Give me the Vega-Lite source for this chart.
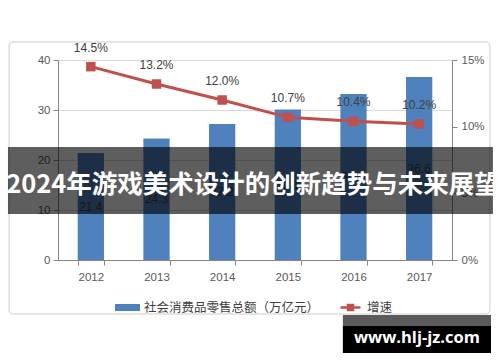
{
"$schema":"https://vega.github.io/schema/vega-lite/v6.json",
"width":394,"height":200,
"autosize":{"type":"none"},
"padding":{"left":58,"top":60,"right":48,"bottom":102},
"background":"#ffffff",
"config":{"view":{"stroke":null},"font":"Liberation Sans",
 "axis":{"labelFont":"Liberation Sans","labelFontSize":11.5,"labelColor":"#595959","domainColor":"#868686","tickColor":"#868686","tickSize":5,"title":null}},
"data":{"values":[
 {"year":"2012","sales":21.4,"growth":0.145},
 {"year":"2013","sales":24.3,"growth":0.132},
 {"year":"2014","sales":27.2,"growth":0.120},
 {"year":"2015","sales":30.1,"growth":0.107},
 {"year":"2016","sales":33.2,"growth":0.104},
 {"year":"2017","sales":36.6,"growth":0.102}]},
"layer":[
 {"data":{"values":[{}]},
  "mark":{"type":"rect","filled":false,"stroke":"#dedede","strokeWidth":1.5,"cornerRadius":4},
  "encoding":{
   "x":{"datum":-0.124,"type":"quantitative","scale":{"domain":[0,1],"nice":false},"axis":null},
   "x2":{"datum":1.096},
   "y":{"datum":-10.8,"type":"quantitative","scale":{"domain":[0,40],"nice":false},"axis":null},
   "y2":{"datum":43.6}}},
 {"mark":{"type":"bar","color":"#4f81bd"},
  "encoding":{
   "x":{"field":"year","type":"ordinal","scale":{"type":"band","paddingInner":0.6,"paddingOuter":0.3},
        "axis":{"labelAngle":0,"tickBand":"extent","labelPadding":6,"grid":false}},
   "y":{"field":"sales","type":"quantitative","scale":{"domain":[0,40],"nice":false},
        "axis":{"values":[0,10,20,30,40],"grid":true,"gridColor":"#d9d9d9","labelPadding":3}},
   "color":{"datum":"社会消费品零售总额（万亿元）","type":"nominal",
     "scale":{"domain":["社会消费品零售总额（万亿元）","增速"],"range":["#4f81bd","#c0504d"]},
     "legend":{"orient":"none","legendX":57,"legendY":235,"direction":"horizontal","title":null,
       "labelFont":"Noto Sans CJK SC","labelFontSize":12.5,"labelColor":"#404040","labelLimit":400,
       "symbolSize":625,"labelOffset":4,"columnPadding":18,
       "encode":{"symbols":{"update":{
         "shape":{"signal":"datum.value === '增速' ? 'M-0.8,-0.1H0.8V0.1H-0.8Z M-0.3,-0.3H0.3V0.3H-0.3Z' : 'M-1,-0.28H1V0.28H-1Z'"},
         "fill":{"scale":"color","field":"value"},
         "strokeWidth":{"value":0},
         "opacity":{"value":1}}}}}}}},
 {"mark":{"type":"text","fontSize":12,"color":"#404040","baseline":"middle"},
  "encoding":{
   "x":{"field":"year","type":"ordinal","scale":{"type":"band","paddingInner":0.6,"paddingOuter":0.3},"axis":null},
   "y":{"field":"sales","type":"quantitative","scale":{"domain":[0,80],"nice":false},"axis":null},
   "text":{"field":"sales","type":"quantitative","format":".1f"}}},
 {"mark":{"type":"line","strokeWidth":3},
  "encoding":{
   "x":{"field":"year","type":"ordinal","scale":{"type":"band","paddingInner":0.6,"paddingOuter":0.3},"axis":null},
   "y":{"field":"growth","type":"quantitative","scale":{"domain":[0,0.15],"nice":false},
        "axis":{"orient":"right","values":[0,0.05,0.1,0.15],"format":".0%","grid":false,"labelPadding":4}},
   "color":{"datum":"增速","type":"nominal"}}},
 {"mark":{"type":"point","shape":"square","filled":true,"size":90,"color":"#c0504d","opacity":1},
  "encoding":{
   "x":{"field":"year","type":"ordinal","scale":{"type":"band","paddingInner":0.6,"paddingOuter":0.3},"axis":null},
   "y":{"field":"growth","type":"quantitative","scale":{"domain":[0,0.15],"nice":false},"axis":null}}},
 {"mark":{"type":"text","fontSize":12,"color":"#404040","baseline":"middle","dy":-19},
  "encoding":{
   "x":{"field":"year","type":"ordinal","scale":{"type":"band","paddingInner":0.6,"paddingOuter":0.3},"axis":null},
   "y":{"field":"growth","type":"quantitative","scale":{"domain":[0,0.15],"nice":false},"axis":null},
   "text":{"field":"growth","type":"quantitative","format":".1%"}}},
 {"data":{"values":[{}]},
  "mark":{"type":"rect","color":"#000000","opacity":0.63},
  "encoding":{
   "x":{"datum":-0.127,"type":"quantitative","scale":{"domain":[0,1],"nice":false},"axis":null},
   "x2":{"datum":1.104},
   "y":{"datum":9.2,"type":"quantitative","scale":{"domain":[0,40],"nice":false},"axis":null},
   "y2":{"datum":22.6}}},
 {"data":{"values":[{}]},
  "mark":{"type":"text","text":"2024年游戏美术设计的创新趋势与未来展望","font":"Noto Sans CJK SC","fontWeight":"bold","fontSize":25.5,"color":"#ffffff","align":"center","baseline":"middle"},
  "encoding":{
   "x":{"datum":0.495,"type":"quantitative","scale":{"domain":[0,1],"nice":false},"axis":null},
   "y":{"datum":15,"type":"quantitative","scale":{"domain":[0,40],"nice":false},"axis":null}}},
 {"data":{"values":[{}]},
  "mark":{"type":"rect","color":"#5b5b5b","opacity":1},
  "encoding":{
   "x":{"datum":0.723,"type":"quantitative","scale":{"domain":[0,1],"nice":false},"axis":null},
   "x2":{"datum":1.099},
   "y":{"datum":-11,"type":"quantitative","scale":{"domain":[0,40],"nice":false},"axis":null},
   "y2":{"datum":-13.2}}},
 {"data":{"values":[{}]},
  "mark":{"type":"rect","color":"#000000","opacity":1},
  "encoding":{
   "x":{"datum":0.723,"type":"quantitative","scale":{"domain":[0,1],"nice":false},"axis":null},
   "x2":{"datum":1.099},
   "y":{"datum":-13.2,"type":"quantitative","scale":{"domain":[0,40],"nice":false},"axis":null},
   "y2":{"datum":-18.6}}},
 {"data":{"values":[{}]},
  "mark":{"type":"text","text":"www.hlj-jz.com","font":"Open Sans","fontWeight":"bold","fontSize":16.5,"color":"#ffffff","align":"center","baseline":"middle"},
  "encoding":{
   "x":{"datum":0.911,"type":"quantitative","scale":{"domain":[0,1],"nice":false},"axis":null},
   "y":{"datum":-15.5,"type":"quantitative","scale":{"domain":[0,40],"nice":false},"axis":null}}}
],
"resolve":{"scale":{"x":"independent","y":"independent"}}
}
